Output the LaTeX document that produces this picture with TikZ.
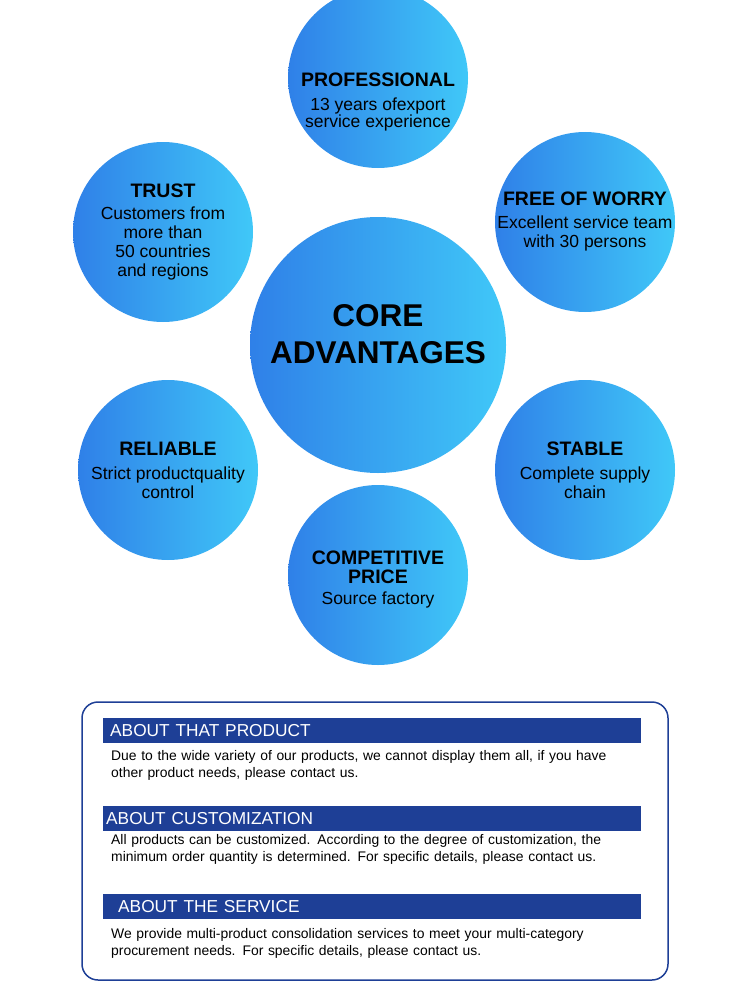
\documentclass[tikz,border=0pt]{standalone}
\usepackage{fontspec}
\setmainfont{Liberation Sans}
\newcommand\ttlf{\bfseries\fontsize{19.5}{22}\selectfont}
\begin{document}
\begin{tikzpicture}[x=1pt,y=-1pt,
 circ/.style={circle,minimum size=180pt,inner sep=0pt,left color=cl,right color=cr,draw=none,align=center,font=\fontsize{17.5}{19}\selectfont},
 bar/.style={fill=barc,text=white,anchor=north west,minimum width=538pt,minimum height=25pt,inner sep=0pt,text width=532pt,align=left,font=\fontsize{17.3}{18}\selectfont},
 body/.style={anchor=north west,text width=545pt,align=left,inner sep=0pt,font=\fontsize{13.9}{17}\selectfont}]
\definecolor{cl}{HTML}{2F80E8}\definecolor{cr}{HTML}{40C8F8}\definecolor{barc}{HTML}{1E3F96}
\useasboundingbox (0,0) rectangle (750,1006);
\clip (0,0) rectangle (750,1006);
\node[circ,minimum size=256pt] (core) at (378,345) {};
\node[align=center,font=\bfseries\fontsize{31.5}{37}\selectfont] (coret) at (378,334) {CORE\\ADVANTAGES};
\node[circ] (pro) at (378,78) {};
\node[align=center,font=\fontsize{17.5}{17}\selectfont] (prot) at (378,102) {{\ttlf PROFESSIONAL}\\[7pt]13 years ofexport\\service experience};
\node[circ] (trust) at (163,232) {};
\node[align=center,font=\fontsize{17.5}{19}\selectfont] (trustt) at (163,232) {{\ttlf TRUST}\\[3pt]Customers from\\more than\\50 countries\\and regions};
\node[circ] (free) at (585,222) {};
\node[align=center,font=\fontsize{17.5}{19}\selectfont] (freet) at (585,222) {{\ttlf FREE OF WORRY}\\[4pt]Excellent service team\\with 30 persons};
\node[circ] (rel) at (168,470) {};
\node[align=center,font=\fontsize{17.5}{19}\selectfont] (relt) at (168,470) {{\ttlf RELIABLE}\\[5pt]Strict productquality\\control};
\node[circ] (stab) at (585,470) {};
\node[align=center,font=\fontsize{17.5}{19}\selectfont] (stabt) at (585,470) {{\ttlf STABLE}\\[5pt]Complete supply\\chain};
\node[circ] (comp) at (378,575) {};
\node[align=center,font=\fontsize{17.5}{19}\selectfont] (compt) at (378,580) {{\ttlf COMPETITIVE}\\{\ttlf PRICE}\\[2pt]Source factory};
\draw[barc,line width=1.5pt,rounded corners=16pt] (82,702) rectangle (668,980);
\node[bar] (b1) at (103,718) {\hspace*{4pt}ABOUT THAT PRODUCT};
\node[body] (t1) at (111,750) {Due to the wide variety of our products, we cannot display them all, if you have\\other product needs, please contact us.};
\node[bar] (b2) at (103,806) {\hspace*{0pt}ABOUT CUSTOMIZATION};
\node[body] (t2) at (111,834) {All products can be customized. According to the degree of customization, the\\minimum order quantity is determined. For specific details, please contact us.};
\node[bar] (b3) at (103,894) {\hspace*{12pt}ABOUT THE SERVICE};
\node[body] (t3) at (111,928) {We provide multi-product consolidation services to meet your multi-category\\procurement needs. For specific details, please contact us.};
\end{tikzpicture}
\end{document}
